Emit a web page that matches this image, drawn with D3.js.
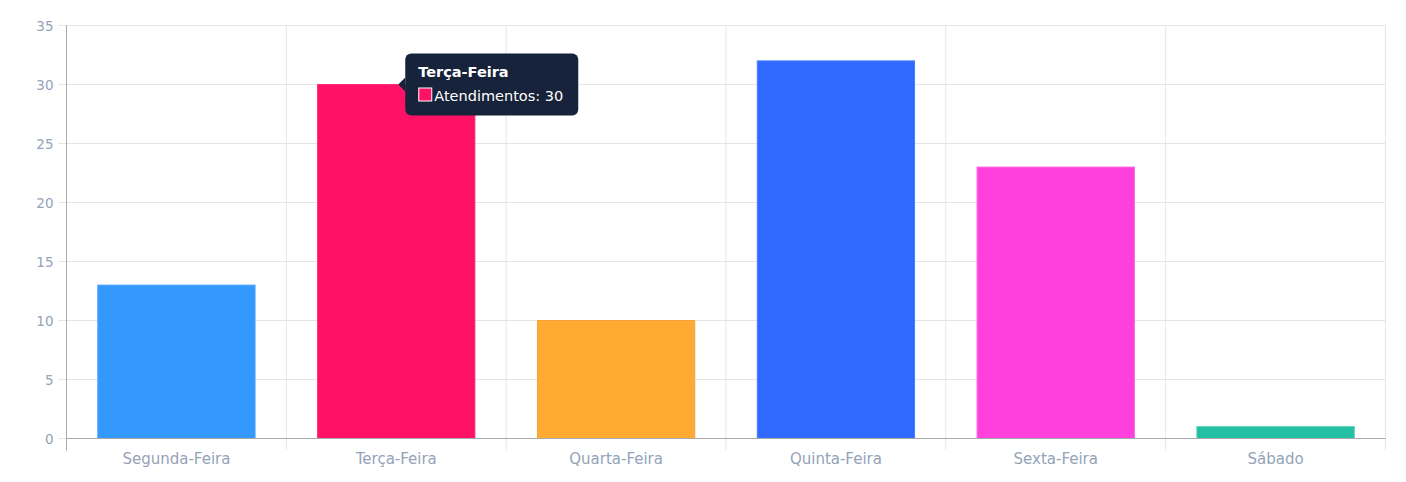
<!DOCTYPE html>
<html>
<head>
<meta charset="utf-8">
<title>Atendimentos por dia</title>
<style>
  body { margin: 0; background: #fff; }
  svg { display: block; font-family: "DejaVu Sans", "Noto Sans", sans-serif; }
  .grid line { stroke: #e5e5e5; stroke-width: 1; }
  .tick text { fill: #94a3b8; font-family: "DejaVu Sans", "Noto Sans", sans-serif; }
  .y .tick text { font-size: 13.5px; }
  .x .tick text { font-size: 15px; }
</style>
</head>
<body>
<svg width="1406" height="482"></svg>
<script src="https://cdn.jsdelivr.net/npm/d3@7/dist/d3.min.js"></script>
<script>
const days = ["Segunda-Feira", "Terça-Feira", "Quarta-Feira", "Quinta-Feira", "Sexta-Feira", "Sábado"];
const atendimentos = [13, 30, 10, 32, 23, 1];
const fills = ["#3399ff", "#ff1166", "#ffaa33", "#2f69ff", "#ff40dd", "#22bfa2"];
const strokes = ["#4da3ff", "#ff2a77", "#f2a33a", "#4a7bff", "#ff5ce2", "#4ccbb1"];
const yTicks = [0, 5, 10, 15, 20, 25, 30, 35];

const svg = d3.select("svg");
const m = { left: 66.5, right: 1385.5, top: 25.5, bottom: 438.5 };

const x = d3.scaleBand().domain(days).range([m.left, m.right]);
const y = d3.scaleLinear().domain([0, 35]).range([m.bottom, m.top]);

// grid
const grid = svg.append("g").attr("class", "grid");
grid.selectAll(".h").data(yTicks).enter().append("line")
  .attr("x1", m.left - 8).attr("x2", m.right)
  .attr("y1", d => y(d)).attr("y2", d => y(d));
const vx = days.map(d => x(d)).concat([m.right]);
grid.selectAll(".v").data(vx).enter().append("line")
  .attr("x1", d => d).attr("x2", d => d)
  .attr("y1", m.top).attr("y2", m.bottom + 12);

// bars
const bw = x.bandwidth() * 0.72;
svg.append("g").selectAll("rect")
  .data(atendimentos).enter().append("rect")
  .attr("x", (d, i) => x(days[i]) + (x.bandwidth() - bw) / 2 + 0.5)
  .attr("y", d => y(d))
  .attr("width", bw - 1)
  .attr("height", d => y(0) - y(d))
  .attr("fill", (d, i) => fills[i])
  .attr("stroke", (d, i) => strokes[i])
  .attr("stroke-width", 1);

// axes
const yAxis = svg.append("g").attr("class", "y")
  .attr("transform", `translate(${m.left},0)`)
  .call(d3.axisLeft(y).tickValues(yTicks).tickSize(0).tickPadding(13));
yAxis.select(".domain").remove();
yAxis.selectAll(".tick text").attr("dy", "0.35em");

const xAxis = svg.append("g").attr("class", "x")
  .attr("transform", `translate(0,${m.bottom})`)
  .call(d3.axisBottom(x).tickSize(0).tickPadding(15));
xAxis.select(".domain").remove();

svg.append("line").attr("x1", m.left).attr("x2", m.left)
  .attr("y1", m.top).attr("y2", m.bottom + 12)
  .attr("stroke", "#aaa");
svg.append("line").attr("x1", m.left).attr("x2", m.right)
  .attr("y1", m.bottom).attr("y2", m.bottom)
  .attr("stroke", "#aaa");

// tooltip on Terça-Feira (anchored near the band centre)
const ti = 1;
const bx = x(days[ti]) + x.bandwidth() / 2 + 2;
const by = y(atendimentos[ti]);
const tx = bx + 7, tw = 173, th = 62, ty = by - 31;
const tip = svg.append("g");
tip.append("path")
  .attr("d", `M${tx},${by - 7} L${bx},${by} L${tx},${by + 7} Z`)
  .attr("fill", "#16233b");
tip.append("rect")
  .attr("x", tx).attr("y", ty).attr("width", tw).attr("height", th)
  .attr("rx", 6).attr("fill", "#16233b");
tip.append("text")
  .attr("x", tx + 13).attr("y", ty + 23)
  .attr("fill", "#fff").attr("font-size", 14.5).attr("font-weight", 700)
  .text(days[ti]);
tip.append("rect")
  .attr("x", tx + 13.5).attr("y", ty + 34.5).attr("width", 13).attr("height", 13)
  .attr("fill", fills[ti]).attr("stroke", "#fff").attr("stroke-width", 1);
tip.append("text")
  .attr("x", tx + 29).attr("y", ty + 47)
  .attr("fill", "#fff").attr("font-size", 14.5)
  .text("Atendimentos: " + atendimentos[ti]);
</script>
</body>
</html>
